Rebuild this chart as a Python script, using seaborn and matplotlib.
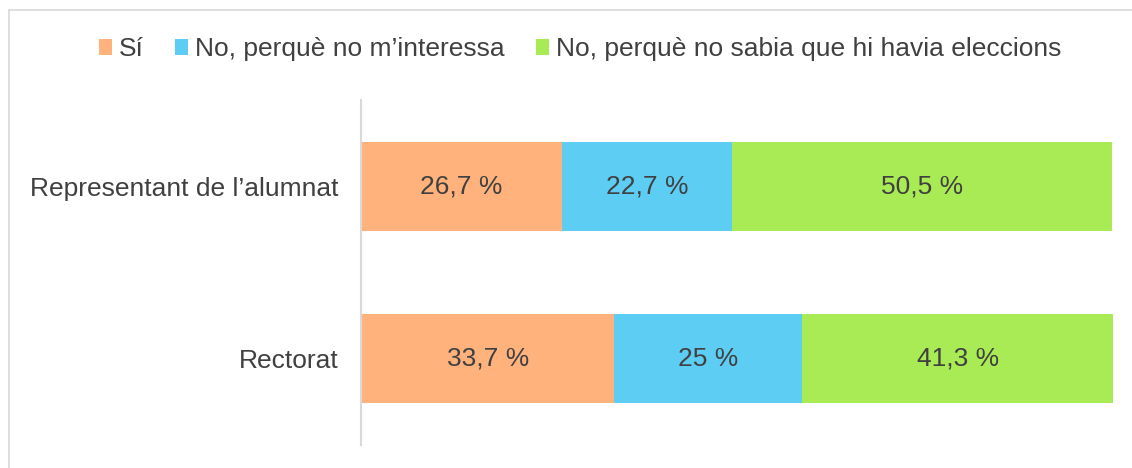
import matplotlib
matplotlib.use("Agg")
import matplotlib.pyplot as plt
import seaborn as sns
import pandas as pd
import numpy as np
from matplotlib.patches import Patch
from matplotlib.lines import Line2D

categories = ["Representant de l\u2019alumnat", "Rectorat"]
series_names = ["S\u00ed", "No, perqu\u00e8 no m\u2019interessa", "No, perqu\u00e8 no sabia que hi havia eleccions"]
si_vals = [26.7, 33.7]
no_int_vals = [22.7, 25.0]
no_sabia_vals = [50.5, 41.3]
value_labels = [["26,7 %", "22,7 %", "50,5 %"], ["33,7 %", "25 %", "41,3 %"]]
colors = ["#FFB27B", "#5DCDF4", "#A9EB55"]
text_color = "#404040"

sns.set_theme(style="white")
plt.rcParams["font.family"] = ["Liberation Sans", "DejaVu Sans"]

fs = 19

fig = plt.figure(figsize=(11.32, 4.68), dpi=100)
ax = fig.add_axes([361/1132, 23/468, 752/1132, 345/468])

series = [si_vals, no_int_vals, no_sabia_vals]
cum = np.cumsum(np.array(series), axis=0)
for i in [2, 1, 0]:
    df = pd.DataFrame({"cat": categories, "val": cum[i]})
    sns.barplot(data=df, x="val", y="cat", orient="h", color=colors[i],
                width=0.516, saturation=1, ax=ax, order=categories, linewidth=0)

lefts = np.vstack([np.zeros(len(categories)), cum[:-1]])
for j, cat in enumerate(categories):
    for i in range(3):
        cx = lefts[i][j] + series[i][j] / 2
        ax.text(cx, j, value_labels[j][i], ha="center", va="center",
                fontsize=fs, color=text_color)

ax.set_xlim(0, 100)
ax.set_ylim(1.5, -0.5)
ax.set_xlabel("")
ax.set_ylabel("")
ax.set_xticks([])
ax.tick_params(axis="y", length=0, pad=16, labelsize=fs, labelcolor=text_color)
for s in ["top", "right", "bottom"]:
    ax.spines[s].set_visible(False)
ax.spines["left"].set_color("#D9D9D9")
ax.spines["left"].set_linewidth(1.5)

handles = [Patch(facecolor=c, edgecolor="none") for c in colors]
fig.legend(handles, series_names, loc="center", bbox_to_anchor=(580/1132, 1 - 49/468),
           ncol=3, frameon=False, fontsize=fs, handlelength=0.5, handleheight=0.55,
           handletextpad=0.25, columnspacing=1.2, labelcolor=text_color)

# chart area frame (partially visible)
fig.add_artist(Line2D([9/1132, 9/1132], [0, 1 - 10/468], transform=fig.transFigure,
                      color="#D9D9D9", lw=1.2))
fig.add_artist(Line2D([9/1132, 1], [1 - 10/468, 1 - 10/468], transform=fig.transFigure,
                      color="#D9D9D9", lw=1.2))

fig.savefig("out.png", dpi=100, facecolor="white")
